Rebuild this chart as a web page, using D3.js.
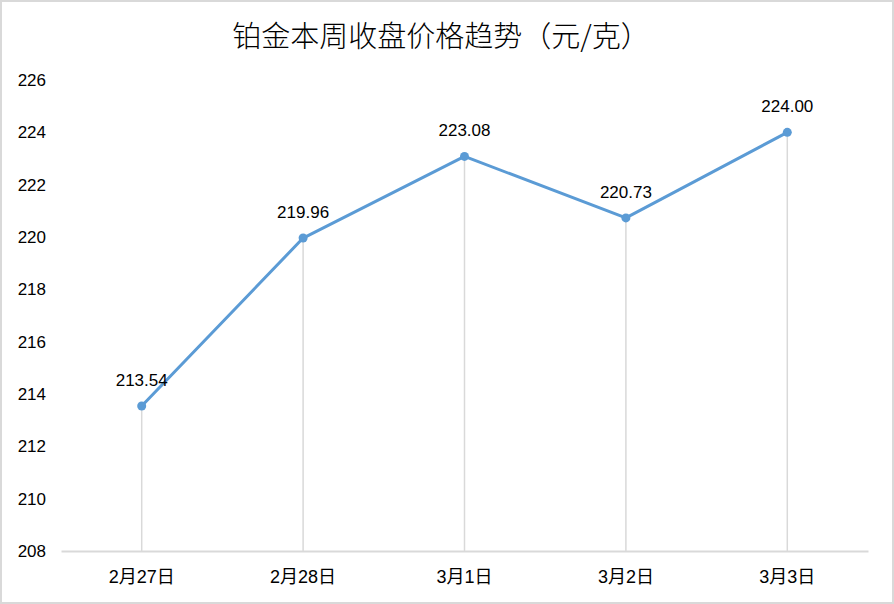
<!DOCTYPE html>
<html><head><meta charset="utf-8">
<script src="https://cdn.jsdelivr.net/npm/d3@7/dist/d3.min.js"></script>
<style>
html,body{margin:0;padding:0;background:#fff;}
svg{display:block;}
</style></head>
<body>
<script>
const categories = ["2月27日","2月28日","3月1日","3月2日","3月3日"];
const values = [213.54, 219.96, 223.08, 220.73, 224.00];
const yTicks = [208,210,212,214,216,218,220,222,224,226];
const title = "铂金本周收盘价格趋势（元/克）";

const W = 894, H = 604;
const svg = d3.select("body").append("svg").attr("width", W).attr("height", H);

svg.append("rect").attr("x",1).attr("y",1).attr("width",W-2).attr("height",H-2)
  .attr("fill","#fff").attr("stroke","#d9d9d9").attr("stroke-width",2);

const x = d3.scaleBand().domain(categories).range([61, 868]);
const y = d3.scaleLinear().domain([208, 226]).range([551, 80]);

const latin = "'Liberation Sans', Arial, 'Noto Sans CJK SC', sans-serif";

svg.append("text").attr("x", W/2 - 6).attr("y", 47).attr("text-anchor","middle")
  .attr("font-family","'Noto Sans CJK SC', sans-serif").attr("font-size",29).attr("font-weight",300)
  .attr("fill","#000").text(title);

// drop lines
svg.selectAll(".drop").data(values).enter().append("line")
  .attr("x1",(d,i)=>x(categories[i])+x.bandwidth()/2)
  .attr("x2",(d,i)=>x(categories[i])+x.bandwidth()/2)
  .attr("y1",d=>y(d)).attr("y2",y(208))
  .attr("stroke","#d9d9d9").attr("stroke-width",1.5);

// x axis
const xAxis = svg.append("g").attr("transform",`translate(0,${y(208)})`)
  .call(d3.axisBottom(x).tickSize(0).tickPadding(19));
xAxis.select(".domain").attr("stroke","#d9d9d9").attr("stroke-width",2);
xAxis.selectAll("text").attr("font-family",latin).attr("font-size",18).attr("fill","#000");

// y axis
const yAxis = svg.append("g").attr("transform","translate(46,0)")
  .call(d3.axisLeft(y).tickValues(yTicks).tickSize(0).tickPadding(0).tickFormat(d3.format("d")));
yAxis.select(".domain").remove();
yAxis.selectAll("text").attr("font-family",latin).attr("font-size",17).attr("fill","#000");

// line
const line = d3.line().x((d,i)=>x(categories[i])+x.bandwidth()/2).y(d=>y(d));
svg.append("path").datum(values).attr("d",line).attr("fill","none")
  .attr("stroke","#5b9bd5").attr("stroke-width",3).attr("stroke-linejoin","round");

svg.selectAll(".pt").data(values).enter().append("circle")
  .attr("cx",(d,i)=>x(categories[i])+x.bandwidth()/2).attr("cy",d=>y(d)).attr("r",4.5)
  .attr("fill","#5b9bd5");

svg.selectAll(".lbl").data(values).enter().append("text")
  .attr("x",(d,i)=>x(categories[i])+x.bandwidth()/2).attr("y",d=>y(d)-20)
  .attr("text-anchor","middle").attr("font-family",latin).attr("font-size",17).attr("fill","#000")
  .text(d=>d.toFixed(2));
</script>
</body></html>
